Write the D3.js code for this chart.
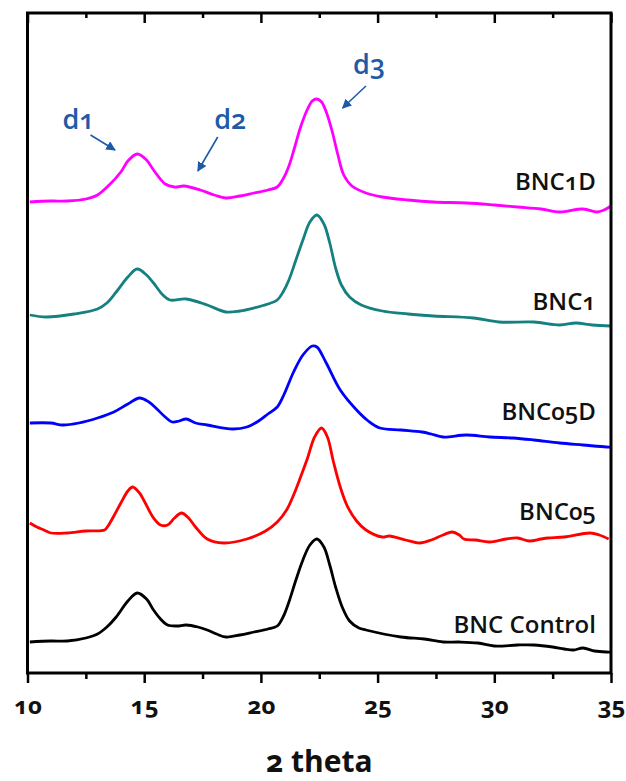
<!DOCTYPE html>
<html>
<head>
<meta charset="utf-8">
<script src="https://cdn.jsdelivr.net/npm/d3@7"></script>
<style>
  html, body { margin: 0; padding: 0; background: #fff; }
  svg text { font-family: "Open Sans", "Noto Sans", sans-serif; font-variant-numeric: oldstyle-nums; }
</style>
</head>
<body>
<div id="chart"></div>
<script>
// 2 theta (deg) vs. stacked intensity (a.u., offsets included as plotted)
const bnc1d = [[10.1,471],[11.0,472],[11.7,472],[12.5,474],[13.0,478],[13.5,488],[14.0,501],[14.3,512],[14.7,519],[15.1,513],[15.4,503],[15.9,489],[16.3,486],[16.7,487],[17.4,483],[18.0,478],[18.5,475],[19.1,477],[19.7,480],[20.3,483],[20.7,486],[20.95,494],[21.2,507],[21.45,526],[21.7,546],[22.0,564],[22.2,572],[22.4,574],[22.6,571],[22.8,561],[23.05,542],[23.3,518],[23.55,498],[23.9,487],[24.5,480],[25.2,476],[26.3,473],[27.4,471],[28.8,470],[30.0,468],[31.0,466],[32.0,464],[32.8,461],[33.8,464],[34.4,461],[34.7,463],[35.0,467]];
const bnc1 = [[10.1,358],[10.8,356],[12.0,359],[13.0,364],[13.4,370],[13.8,381],[14.3,396],[14.7,404],[15.1,398],[15.4,390],[15.8,378],[16.1,373],[16.8,374],[17.7,368],[18.5,361],[19.1,362],[19.7,365],[20.3,369],[20.7,373],[20.95,381],[21.2,393],[21.5,413],[21.8,433],[22.1,451],[22.4,458],[22.7,449],[22.95,430],[23.2,405],[23.45,388],[23.8,376],[24.3,368],[25.2,362],[26.3,359],[27.4,357],[29.1,355],[30.2,351],[31.7,351],[32.8,348],[33.5,350],[34.2,348],[35.0,347]];
const bnc05d = [[10.1,250],[11.0,250],[11.5,248],[12.2,250],[13.0,255],[13.7,261],[14.3,269],[14.8,275],[15.2,271],[15.5,265],[15.9,256],[16.2,251],[16.5,252],[16.8,254],[17.2,250],[17.7,248],[18.8,244],[19.4,246],[19.9,252],[20.3,259],[20.7,266],[21.0,279],[21.4,301],[21.8,318],[22.2,327],[22.4,326],[22.8,310],[23.4,283],[24.1,263],[24.6,252],[25.1,245],[26.0,243],[26.9,241],[27.3,239],[27.8,236],[28.8,238],[29.8,236],[30.8,235],[31.7,233],[32.8,230],[33.8,228],[34.8,226],[35.0,226]];
const bnc05 = [[10.1,150],[10.4,146],[10.7,143],[11.0,140],[11.7,140],[12.5,142],[13.3,143],[13.45,147],[13.7,157],[14.0,170],[14.3,182],[14.5,186],[14.8,180],[15.0,172],[15.4,155],[15.7,148],[16.0,148],[16.3,155],[16.6,160],[16.9,155],[17.2,146],[17.7,134],[18.4,130],[19.4,134],[20.2,142],[20.7,151],[21.1,163],[21.4,178],[21.7,196],[22.0,215],[22.3,236],[22.6,245],[22.85,236],[23.1,212],[23.4,186],[23.7,167],[24.1,152],[24.5,143],[25.2,136],[25.5,137],[26.2,133],[26.8,130],[27.3,133],[27.8,138],[28.2,141],[28.5,138],[28.7,134],[29.2,133],[29.8,131],[30.5,134],[31.0,135],[31.5,132],[32.0,134],[32.3,135],[33.0,136],[34.1,140],[34.5,138],[34.9,134]];
const control = [[10.1,31],[11.0,32],[11.7,32],[12.5,35],[13.0,39],[13.4,46],[13.8,56],[14.3,72],[14.7,80],[15.1,74],[15.4,63],[15.7,54],[16.0,48],[16.4,47],[16.8,48],[17.3,46],[17.7,43],[18.1,39],[18.5,36],[19.1,38],[19.7,41],[20.3,44],[20.7,47],[20.95,56],[21.2,71],[21.5,93],[21.8,113],[22.1,128],[22.4,134],[22.7,126],[22.95,108],[23.2,86],[23.5,65],[23.8,52],[24.2,45],[24.5,43],[26.0,36],[27.0,34],[27.8,31],[28.5,31],[29.3,30],[30.0,27],[31.0,28],[31.7,28],[32.5,26],[33.0,24],[33.4,23],[33.8,25],[34.3,22],[34.8,21],[35.0,21]];

const seriesNames = ['BNC1D', 'BNC1', 'BNC05D', 'BNC05', 'BNC Control'];
const seriesData = [bnc1d, bnc1, bnc05d, bnc05, control];
const seriesColors = ['#ff00ff', '#148080', '#0000ff', '#ff0000', '#000000'];
// value level where each name sits (right side)
const labelLevels = [483, 363, 253, 153, 40];

const majorTicks = [10, 15, 20, 25, 30, 35];
const minorTicks = [12.5, 17.5, 22.5, 27.5, 32.5];

// peak annotations: text position and arrow from/to (data units)
const notes = [
  { text: 'd1', tx: 11.5, ty: 544, from: [12.7, 538], to: [13.75, 523] },
  { text: 'd2', tx: 18.0, ty: 544, from: [18.15, 536], to: [17.3, 502] },
  { text: 'd3', tx: 23.95, ty: 599, from: [24.5, 587], to: [23.5, 565] }
];

const W = 626, H = 781;
const margin = { top: 13, right: 15, bottom: 108, left: 27.5 };

const svg = d3.select('#chart').append('svg')
  .attr('width', W).attr('height', H);

const x = d3.scaleLinear().domain([10, 35]).range([margin.left, W - margin.right]);
const y = d3.scaleLinear().domain([0, 660]).range([H - margin.bottom, margin.top]);

const line = d3.line()
  .x(d => x(d[0]))
  .y(d => y(d[1]))
  .curve(d3.curveCatmullRom.alpha(0.5));

// traces
seriesData.forEach((vals, i) => {
  svg.append('path')
    .datum(vals)
    .attr('fill', 'none')
    .attr('stroke', seriesColors[i])
    .attr('stroke-width', 2.8)
    .attr('stroke-linejoin', 'round')
    .attr('d', line);

  svg.append('text')
    .attr('x', x(34.35))
    .attr('y', y(labelLevels[i]))
    .attr('text-anchor', 'end')
    .attr('font-size', 24)
    .attr('font-weight', 600)
    .attr('fill', '#111')
    .text(seriesNames[i]);
});

// bottom axis, ticks outward
const bottomG = svg.append('g').attr('transform', `translate(0,${y(0)})`);
bottomG.append('g').call(d3.axisBottom(x).tickValues(majorTicks).tickSize(10).tickSizeOuter(0).tickFormat(d3.format('d')));
bottomG.append('g').call(d3.axisBottom(x).tickValues(minorTicks).tickSize(6).tickSizeOuter(0).tickFormat(''));
bottomG.selectAll('.domain').remove();
bottomG.selectAll('line').attr('stroke', '#000').attr('stroke-width', 2.5);
bottomG.selectAll('text')
  .attr('font-size', 24)
  .attr('font-weight', 700)
  .attr('fill', '#111')
  .attr('dy', '1.15em');

// top axis, ticks inward
const topG = svg.append('g').attr('transform', `translate(0,${y(660)})`);
topG.append('g').call(d3.axisTop(x).tickValues(majorTicks).tickSize(-10).tickSizeOuter(0).tickFormat(''));
topG.append('g').call(d3.axisTop(x).tickValues(minorTicks).tickSize(-5).tickSizeOuter(0).tickFormat(''));
topG.selectAll('.domain').remove();
topG.selectAll('line').attr('stroke', '#000').attr('stroke-width', 2.5);

// frame
svg.append('rect')
  .attr('x', x(10)).attr('y', y(660))
  .attr('width', x(35) - x(10)).attr('height', y(0) - y(660))
  .attr('fill', 'none').attr('stroke', '#000').attr('stroke-width', 3);

// axis title
svg.append('text')
  .attr('x', (x(10) + x(35)) / 2)
  .attr('y', 772)
  .attr('text-anchor', 'middle')
  .attr('font-size', 30)
  .attr('font-weight', 700)
  .attr('fill', '#111')
  .text('2 theta');

// annotations
const blue = '#1d5aa8';
svg.append('defs').append('marker')
  .attr('id', 'head')
  .attr('viewBox', '0 0 10 10')
  .attr('refX', 9).attr('refY', 5)
  .attr('markerWidth', 6).attr('markerHeight', 6)
  .attr('orient', 'auto')
  .append('path')
  .attr('d', 'M0,0 L10,5 L0,10 z')
  .attr('fill', blue);

notes.forEach(n => {
  svg.append('text')
    .attr('x', x(n.tx)).attr('y', y(n.ty))
    .attr('font-size', 27)
    .attr('font-weight', 600)
    .attr('fill', blue)
    .text(n.text);
  svg.append('line')
    .attr('x1', x(n.from[0])).attr('y1', y(n.from[1]))
    .attr('x2', x(n.to[0])).attr('y2', y(n.to[1]))
    .attr('stroke', blue)
    .attr('stroke-width', 1.6)
    .attr('marker-end', 'url(#head)');
});
</script>
</body>
</html>
